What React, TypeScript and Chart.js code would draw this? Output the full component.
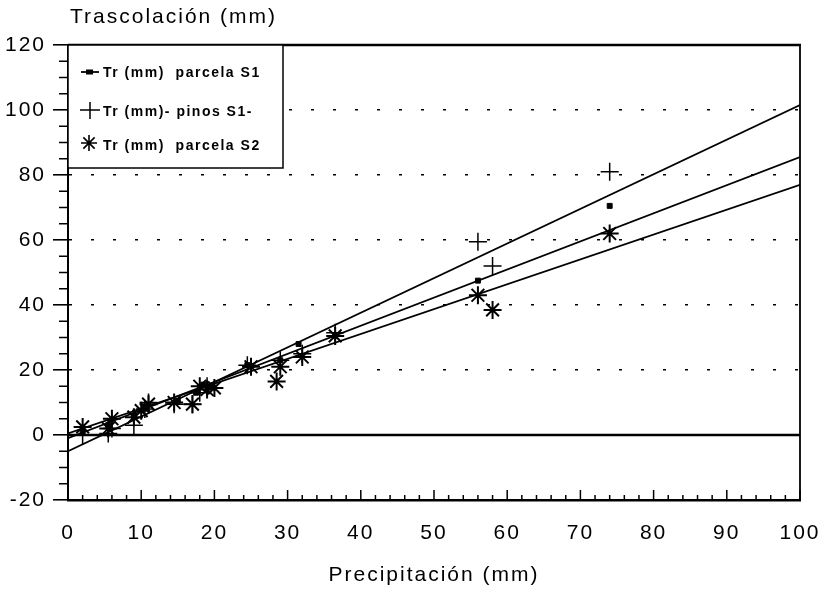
import React, { useEffect, useRef } from "react";
import { Chart, registerables } from "chart.js";

Chart.register(...registerables);

// ---- data ----
const pinosS1X = [2, 5.5, 6, 9, 10.5, 11, 14.5, 17, 18, 19, 24.5, 29, 32, 36.5, 56, 58, 74];
const pinosS1Y = [0, 0.5, 2, 3, 8, 10, 9.5, 9.5, 13, 15, 21.5, 23, 25, 31.5, 59.5, 52, 81];

const parcelaS1X = [2, 5.5, 9, 10.5, 15, 17.5, 18.5, 24.5, 29, 31.5, 36.5, 56, 74];
const parcelaS1Y = [1, 3, 6, 8.5, 10.5, 13, 15.5, 21.5, 23, 28, 30.5, 47.5, 70.5];

const parcelaS2X = [2, 5.5, 6, 9, 10, 11, 14.5, 17, 18, 19, 20, 25, 28.5, 29, 32, 36.5, 56, 58, 74];
const parcelaS2Y = [2.5, 2, 5, 5.5, 7.5, 9.5, 10, 9.5, 15, 14, 14.5, 21, 16.5, 21, 24, 30.5, 43, 38.5, 62];

// regression lines (values at x = 0 and x = 100)
const fitX = [0, 100];
const fitPinosS1 = [-5, 101.5];
const fitParcelaS1 = [-1, 85.5];
const fitParcelaS2 = [0.5, 77];

const xTicks = [0, 10, 20, 30, 40, 50, 60, 70, 80, 90, 100];
const yTicks = [-20, 0, 20, 40, 60, 80, 100, 120];

const legendLabels = ["Tr (mm)  parcela S1", "Tr (mm)- pinos S1-", "Tr (mm)  parcela S2"];
const yTitle = "Trascolación (mm)";
const xTitle = "Precipitación (mm)";

const FONT = "'Liberation Sans', Arial, Helvetica, sans-serif";
const SPACING = "2px";

const pts = (xs: number[], ys: number[]) => xs.map((x, i) => ({ x, y: ys[i] }));

const decor = {
  id: "decor",
  beforeLayout(chart: any) {
    chart.ctx.letterSpacing = SPACING;
  },
  beforeDraw(chart: any) {
    chart.ctx.letterSpacing = SPACING;
    const { ctx, width, height } = chart;
    ctx.save();
    ctx.fillStyle = "#fff";
    ctx.fillRect(0, 0, width, height);
    ctx.restore();
  },
  beforeDatasetsDraw(chart: any) {
    const { ctx, chartArea, scales } = chart;
    const { left, right } = chartArea;
    const y0 = scales.y.getPixelForValue(0);
    ctx.save();
    ctx.strokeStyle = "#000";
    ctx.lineWidth = 2.5;
    ctx.beginPath();
    ctx.moveTo(left, y0);
    ctx.lineTo(right, y0);
    ctx.stroke();
    ctx.restore();
  },
  afterDraw(chart: any) {
    const { ctx, chartArea, scales } = chart;
    const { left, right, top, bottom } = chartArea;
    const xs = scales.x;
    const ys = scales.y;
    ctx.save();
    ctx.strokeStyle = "#000";
    ctx.fillStyle = "#000";
    // frame top and right
    ctx.lineWidth = 2.5;
    ctx.beginPath();
    ctx.moveTo(left, top);
    ctx.lineTo(right + 1, top);
    ctx.stroke();
    ctx.lineWidth = 1.8;
    ctx.beginPath();
    ctx.moveTo(right, top);
    ctx.lineTo(right, bottom);
    ctx.stroke();
    // x ticks (inward)
    ctx.lineWidth = 1.5;
    for (let v = 0; v <= 100; v += 2) {
      const px = xs.getPixelForValue(v);
      const len = v % 10 === 0 ? 10 : 5;
      ctx.beginPath();
      ctx.moveTo(px, bottom);
      ctx.lineTo(px, bottom - len);
      ctx.stroke();
    }
    // y minor ticks (outward)
    for (let v = -20; v <= 120; v += 5) {
      if (v % 20 === 0) continue;
      const py = ys.getPixelForValue(v);
      ctx.beginPath();
      ctx.moveTo(left, py);
      ctx.lineTo(left - 9, py);
      ctx.stroke();
    }
    // y title
    ctx.letterSpacing = SPACING;
    ctx.font = `21px ${FONT}`;
    ctx.textAlign = "left";
    ctx.textBaseline = "middle";
    ctx.fillText(yTitle, 70, 17);

    // legend box
    const lw = 215;
    const lh = 123;
    ctx.fillStyle = "#fff";
    ctx.fillRect(left, top, lw, lh);
    ctx.fillStyle = "#000";
    ctx.lineWidth = 1.5;
    ctx.strokeRect(left, top, lw, lh);

    const rows = [top + 28, top + 67, top + 101];
    const mx = left + 22;
    // row 1: line + square
    ctx.lineWidth = 1.8;
    ctx.beginPath();
    ctx.moveTo(mx - 9, rows[0] - 1);
    ctx.lineTo(mx + 9, rows[0] - 1);
    ctx.stroke();
    ctx.fillRect(mx - 4, rows[0] - 3.5, 7, 5);
    // row 2: cross with line
    ctx.lineWidth = 1.5;
    ctx.beginPath();
    ctx.moveTo(mx - 10, rows[1] - 2);
    ctx.lineTo(mx + 10, rows[1] - 2);
    ctx.moveTo(mx, rows[1] - 10);
    ctx.lineTo(mx, rows[1] + 7);
    ctx.stroke();
    // row 3: star
    const r = 8;
    const cy = rows[2] - 3;
    const cx = mx - 1;
    ctx.lineWidth = 1.6;
    ctx.beginPath();
    for (let k = 0; k < 4; k++) {
      const a = (k * Math.PI) / 4;
      ctx.moveTo(cx - r * Math.cos(a), cy - r * Math.sin(a));
      ctx.lineTo(cx + r * Math.cos(a), cy + r * Math.sin(a));
    }
    ctx.stroke();

    ctx.font = `bold 14px ${FONT}`;
    ctx.letterSpacing = "1.5px";
    ctx.textBaseline = "middle";
    legendLabels.forEach((t, i) => ctx.fillText(t, left + 35, rows[i]));
    ctx.restore();
  },
};

export default function App() {
  const ref = useRef<HTMLCanvasElement | null>(null);
  useEffect(() => {
    document.body.style.margin = "0";
    const canvas = ref.current;
    if (!canvas) return;
    const chart = new Chart(canvas, {
      type: "scatter",
      data: {
        datasets: [
          {
            label: "fit pinos S1",
            data: pts(fitX, fitPinosS1),
            showLine: true,
            borderColor: "#000",
            borderWidth: 1.8,
            pointRadius: 0,
          },
          {
            label: "fit parcela S1",
            data: pts(fitX, fitParcelaS1),
            showLine: true,
            borderColor: "#000",
            borderWidth: 1.8,
            pointRadius: 0,
          },
          {
            label: "fit parcela S2",
            data: pts(fitX, fitParcelaS2),
            showLine: true,
            borderColor: "#000",
            borderWidth: 1.8,
            pointRadius: 0,
          },
          {
            label: legendLabels[0],
            data: pts(parcelaS1X, parcelaS1Y),
            pointStyle: "rect",
            pointRadius: 3.5,
            backgroundColor: "#000",
            borderColor: "#000",
            borderWidth: 1,
          },
          {
            label: legendLabels[1],
            data: pts(pinosS1X, pinosS1Y),
            pointStyle: "cross",
            pointRadius: 9,
            borderColor: "#000",
            borderWidth: 1.5,
          },
          {
            label: legendLabels[2],
            data: pts(parcelaS2X, parcelaS2Y),
            pointStyle: "star",
            pointRadius: 9,
            borderColor: "#000",
            borderWidth: 2,
          },
        ],
      },
      options: {
        responsive: false,
        animation: false,
        layout: { padding: { left: 0, top: 45, right: 23, bottom: 0 } },
        plugins: {
          legend: { display: false },
          tooltip: { enabled: false },
          title: { display: false },
        },
        scales: {
          x: {
            type: "linear",
            min: 0,
            max: 100,
            afterFit: (s: any) => {
              s.height = 91;
              s.paddingLeft = 0;
              s.paddingRight = 0;
            },
            afterBuildTicks: (s: any) => {
              s.ticks = xTicks.map((v) => ({ value: v }));
            },
            grid: { display: false },
            border: { display: true, color: "#000", width: 2.5 },
            ticks: {
              color: "#000",
              padding: 13,
              maxRotation: 0,
              font: { family: FONT, size: 21 },
            },
            title: {
              display: true,
              text: xTitle,
              color: "#000",
              font: { family: FONT, size: 21 },
              padding: { top: 0, bottom: 3 },
            },
          },
          y: {
            type: "linear",
            min: -20,
            max: 120,
            afterFit: (s: any) => {
              s.width = 68;
              s.paddingTop = 0;
              s.paddingBottom = 0;
            },
            afterBuildTicks: (s: any) => {
              s.ticks = yTicks.map((v) => ({ value: v }));
            },
            grid: {
              color: (c: any) =>
                c.tick && (c.tick.value === 0 || c.tick.value === -20 || c.tick.value === 120)
                  ? "rgba(0,0,0,0)"
                  : "#000",
              tickColor: "#000",
              lineWidth: 1.6,
              tickLength: 15,
              tickWidth: 1.6,
            },
            border: { display: true, color: "#000", width: 2, dash: [3, 19] },
            ticks: {
              color: "#000",
              padding: 7,
              font: { family: FONT, size: 21 },
            },
          },
        },
      },
      plugins: [decor],
    });
    return () => chart.destroy();
  }, []);
  return (
    <div style={{ position: "absolute", left: 0, top: 0, width: 823, height: 591, background: "#fff" }}>
      <canvas ref={ref} width={823} height={591} style={{ width: 823, height: 591, display: "block" }} />
    </div>
  );
}
